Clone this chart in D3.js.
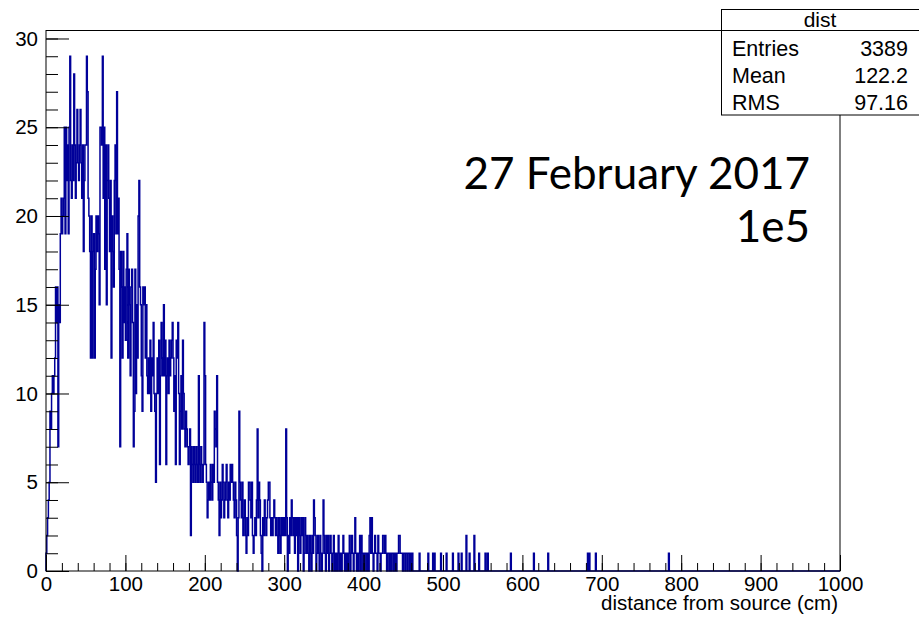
<!DOCTYPE html>
<html>
<head>
<meta charset="utf-8">
<script src="https://cdn.jsdelivr.net/npm/d3@7"></script>
<style>
  body { margin: 0; background: #fff; }
  svg { display: block; }
</style>
</head>
<body>
<svg width="919" height="618"></svg>
<script>
// counts per 1 cm bin (bins 0..469)
var binCounts = [
  1, 2, 3, 4, 5, 9, 8, 10, 11, 10,
  11, 12, 16, 14, 16, 7, 15, 14, 19, 21,
  19, 20, 21, 25, 19, 25, 22, 24, 19, 25,
  29, 22, 21, 24, 22, 28, 24, 21, 23, 26,
  23, 22, 24, 26, 23, 21, 24, 18, 22, 24,
  24, 29, 27, 21, 20, 18, 12, 20, 12, 18,
  19, 12, 17, 20, 18, 20, 19, 15, 25, 25,
  24, 29, 21, 25, 17, 24, 15, 22, 24, 21,
  18, 22, 12, 20, 18, 16, 22, 24, 19, 27,
  19, 21, 17, 7, 18, 16, 12, 18, 14, 16,
  13, 17, 19, 12, 17, 15, 11, 16, 17, 14,
  7, 9, 17, 10, 15, 12, 20, 22, 16, 15,
  11, 9, 16, 15, 16, 12, 15, 11, 10, 12,
  10, 13, 9, 12, 11, 14, 10, 9, 5, 10,
  12, 10, 13, 6, 11, 14, 12, 11, 15, 11,
  13, 6, 11, 12, 10, 13, 11, 12, 13, 14,
  12, 9, 11, 6, 13, 12, 14, 10, 6, 9,
  11, 8, 13, 10, 8, 7, 9, 8, 7, 6,
  7, 8, 2, 7, 6, 5, 7, 6, 5, 7,
  6, 5, 11, 6, 5, 7, 6, 5, 6, 14,
  11, 6, 5, 3, 4, 5, 4, 6, 5, 4,
  6, 5, 9, 8, 7, 11, 5, 4, 2, 5,
  3, 4, 6, 5, 3, 4, 5, 6, 4, 3,
  5, 4, 6, 5, 6, 5, 4, 3, 5, 4,
  2, 0, 3, 9, 5, 4, 3, 5, 2, 3,
  4, 2, 1, 3, 2, 5, 5, 4, 3, 5,
  2, 1, 2, 3, 2, 4, 8, 3, 5, 4,
  2, 1, 0, 3, 2, 4, 3, 2, 3, 4,
  5, 5, 3, 2, 3, 2, 3, 4, 3, 2,
  3, 2, 1, 3, 2, 1, 3, 2, 3, 2,
  3, 2, 8, 3, 0, 2, 1, 3, 2, 4,
  3, 2, 3, 1, 3, 2, 3, 0, 3, 2,
  1, 3, 2, 3, 0, 1, 3, 2, 1, 2,
  1, 0, 2, 1, 0, 2, 1, 4, 3, 2,
  0, 1, 2, 1, 0, 2, 1, 0, 1, 4,
  2, 1, 0, 2, 1, 2, 0, 1, 2, 1,
  0, 1, 2, 0, 1, 0, 1, 0, 2, 1,
  0, 1, 0, 1, 2, 1, 0, 1, 0, 1,
  0, 1, 2, 0, 1, 2, 1, 0, 1, 3,
  1, 0, 1, 0, 1, 2, 0, 2, 1, 0,
  1, 0, 1, 1, 0, 1, 0, 2, 3, 1,
  3, 1, 0, 1, 2, 1, 1, 0, 2, 1,
  1, 0, 1, 1, 2, 2, 1, 2, 1, 0,
  1, 1, 0, 1, 0, 1, 1, 0, 1, 0,
  1, 0, 1, 1, 2, 2, 1, 1, 1, 0,
  1, 1, 0, 1, 1, 0, 1, 1, 0, 1,
  0, 1, 0, 0, 0, 0, 0, 0, 0, 0
];

// isolated entries in the tail (bin index in cm, count)
var tailBins   = [470, 481, 487, 489, 497, 504, 512, 519, 523, 529, 533, 539, 545, 553, 556, 585, 614, 632, 682, 684, 692, 784];
var tailCounts = [1,   1,   1,   1,   1,   1,   1,   1,   1,   2,   1,   2,   1,   1,   1,   1,   1,   1,   1,   1,   1,   1];

var nBins = 1000;
var xMin = 0, xMax = 1000;
var yMax = 30.45;

var xMajor = d3.range(0, 1001, 100);
var xMinor = d3.range(0, 1001, 20);
var yMajor = d3.range(0, 31, 5);
var yMinor = d3.range(0, 31, 1);

var statsName = "dist";
var statsRows = [["Entries", "3389"], ["Mean", "122.2"], ["RMS", "97.16"]];
var noteLines = ["27 February 2017", "1e5"];

// full histogram
var counts = new Array(nBins).fill(0);
binCounts.forEach((c, i) => counts[i] = c);
tailBins.forEach((b, i) => counts[b] += tailCounts[i]);

var svg = d3.select("svg");
var frameL = 46, frameR = 840, frameT = 30.5, frameB = 571;
var helv = "'Liberation Sans', Arial, sans-serif";

var x = d3.scaleLinear().domain([xMin, xMax]).range([frameL, frameR]);
var y = d3.scaleLinear().domain([0, yMax]).range([frameB, frameT]);

// staircase outline like ROOT
var pts = [[0, 0]];
counts.forEach((c, i) => { pts.push([i, c]); pts.push([i + 1, c]); });
pts.push([nBins, 0]);

var line = d3.line().x(d => x(d[0])).y(d => y(d[1]));

svg.append("path")
  .attr("d", line(pts))
  .attr("fill", "none")
  .attr("stroke", "#000099")
  .attr("stroke-width", 1.5)
  .attr("stroke-linejoin", "miter");

// frame
svg.append("rect")
  .attr("x", frameL).attr("y", frameT)
  .attr("width", frameR - frameL).attr("height", frameB - frameT)
  .attr("fill", "none").attr("stroke", "#000").attr("stroke-width", 1);

// y axis, ticks pointing inside
svg.append("g").attr("transform", "translate(" + frameL + ",0)")
  .call(d3.axisLeft(y).tickValues(yMajor).tickSize(-23).tickPadding(8).tickFormat(d3.format("d")));
svg.append("g").attr("transform", "translate(" + frameL + ",0)")
  .call(d3.axisLeft(y).tickValues(yMinor).tickSize(-12).tickFormat(""));

// x axis, ticks pointing up
svg.append("g").attr("transform", "translate(0," + frameB + ")")
  .call(d3.axisBottom(x).tickValues(xMajor).tickSize(-16).tickPadding(5).tickFormat(d3.format("d")));
svg.append("g").attr("transform", "translate(0," + frameB + ")")
  .call(d3.axisBottom(x).tickValues(xMinor).tickSize(-8).tickFormat(""));

svg.selectAll(".domain").remove();
svg.selectAll(".tick line").attr("stroke", "#000");
svg.selectAll(".tick text").attr("font-size", 20.5).attr("font-family", helv).attr("fill", "#000");

// axis title
svg.append("text")
  .attr("x", 838).attr("y", 610)
  .attr("text-anchor", "end")
  .attr("font-family", helv)
  .attr("font-size", 20.5)
  .text("distance from source (cm)");

// stats box
var sb = svg.append("g").attr("font-family", helv);
sb.append("rect")
  .attr("x", 721.5).attr("y", 9.5)
  .attr("width", 210).attr("height", 105.5)
  .attr("fill", "#fff").attr("stroke", "#000").attr("stroke-width", 1);
sb.append("line")
  .attr("x1", 721.5).attr("x2", 931).attr("y1", 30.5).attr("y2", 30.5)
  .attr("stroke", "#000");
sb.append("text")
  .attr("x", 820).attr("y", 27).attr("text-anchor", "middle")
  .attr("font-size", 21).text(statsName);
statsRows.forEach((r, i) => {
  sb.append("text").attr("x", 732).attr("y", 56 + i * 26.8)
    .attr("font-size", 21.5).text(r[0]);
  sb.append("text").attr("x", 908).attr("y", 56 + i * 26.8)
    .attr("text-anchor", "end").attr("font-size", 21.5).text(r[1]);
});

// note text
noteLines.forEach((t, i) => {
  svg.append("text")
    .attr("x", 810).attr("y", 189 + i * 53)
    .attr("text-anchor", "end")
    .attr("font-family", "Lato, 'Open Sans', sans-serif")
    .attr("font-size", 44)
    .text(t);
});
</script>
</body>
</html>
